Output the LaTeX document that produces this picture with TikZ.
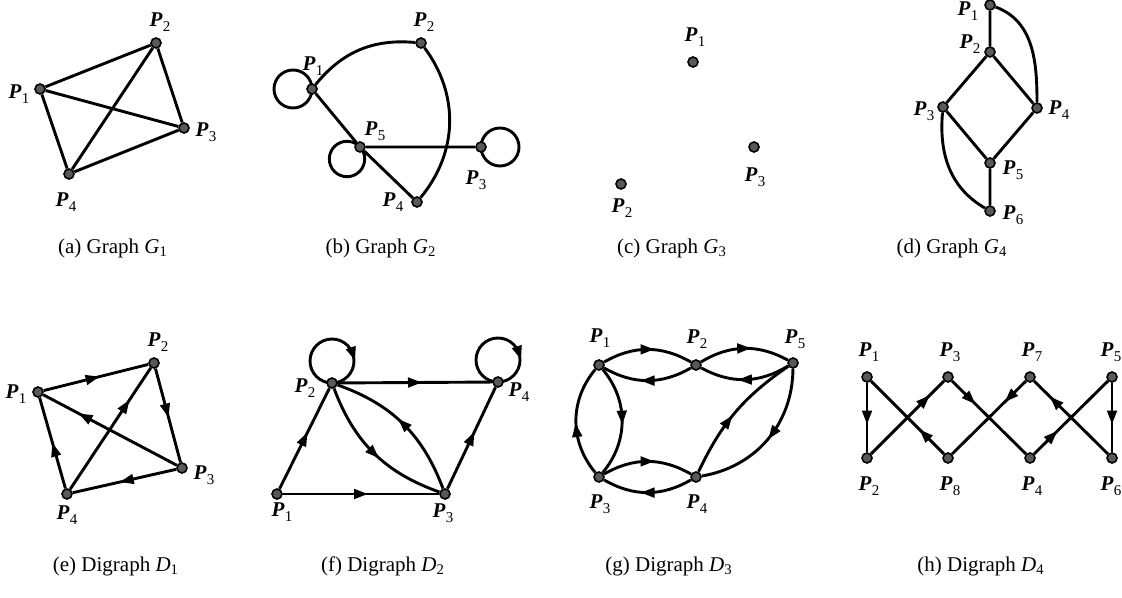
\documentclass[tikz,border=0pt]{standalone}
\usepackage{fontspec}
\setmainfont{Liberation Serif}
\usetikzlibrary{arrows.meta,decorations.markings}
\pgfdeclarelayer{bg}
\pgfsetlayers{bg,main}
\newcommand\Pl[1]{\textbf{\textit{P}}\kern0.2pt\raisebox{-0.55ex}{\fontsize{7.5}{8}\selectfont #1}}
\begin{document}
\begin{tikzpicture}[x=0.5pt,y=0.5pt,
  dot/.style={circle,fill=black!65,draw=black,line width=0.8pt,inner sep=0pt,minimum size=5pt},
  lbl/.style={inner sep=0pt,font=\fontsize{10.5}{12}\selectfont},
  capt/.style={inner sep=0pt,font=\fontsize{10.5}{12}\selectfont},
  ln/.style={line width=1.45pt},
  ma/.style={postaction={decorate},decoration={markings,mark=at position #1 with {\arrow[xshift=3.5pt]{Triangle[length=7pt,width=4.8pt]}}}},
  ma/.default=0.5]
\useasboundingbox (0,0) rectangle (1122,-598);
% ---------- (a)
\node[dot] (a1) at (40,-89) {};
\node[dot] (a2) at (156,-43) {};
\node[dot] (a3) at (184,-128) {};
\node[dot] (a4) at (69,-174) {};
\node[lbl] (la1) at (19,-94) {\Pl1};
\node[lbl] (la2) at (160,-22) {\Pl2};
\node[lbl] (la3) at (206,-132) {\Pl3};
\node[lbl] (la4) at (66,-202) {\Pl4};
\begin{pgfonlayer}{bg}
\draw[ln] (a1)--(a2) (a1)--(a3) (a1)--(a4) (a2)--(a3) (a2)--(a4) (a3)--(a4);
\end{pgfonlayer}
\node[capt] (ca) at (113,-248) {(a) Graph \textit{G}\textsubscript{1}};
% ---------- (b)
\node[dot] (b1) at (312,-89) {};
\node[dot] (b2) at (421,-43) {};
\node[dot] (b3) at (481,-147) {};
\node[dot] (b4) at (417,-202) {};
\node[dot] (b5) at (360,-147) {};
\node[lbl] (lb1) at (313,-66) {\Pl1};
\node[lbl] (lb2) at (424,-22) {\Pl2};
\node[lbl] (lb5) at (375,-131) {\Pl5};
\node[lbl] (lb3) at (476,-180) {\Pl3};
\node[lbl] (lb4) at (393,-202) {\Pl4};
\begin{pgfonlayer}{bg}
\draw[ln] (b1) to[bend left=28] (b2);
\draw[ln] (b2) to[bend left=38] (b4);
\draw[ln] (b1)--(b5) (b5)--(b4) (b5)--(b3);
\draw[ln] (b1.center) ++(-19,0) circle[radius=19];
\draw[ln] (b5.center) ++(-13,-12) circle[radius=17.7];
\draw[ln] (b3.center) ++(19,0) circle[radius=19];
\end{pgfonlayer}
\node[capt] (cb) at (381,-248) {(b) Graph \textit{G}\textsubscript{2}};
% ---------- (c)
\node[dot] (c1) at (693,-62) {};
\node[dot] (c2) at (621,-184) {};
\node[dot] (c3) at (754,-147) {};
\node[lbl] (lc1) at (695,-37) {\Pl1};
\node[lbl] (lc3) at (755,-177) {\Pl3};
\node[lbl] (lc2) at (622,-208) {\Pl2};
\node[capt] (cc) at (672,-248) {(c) Graph \textit{G}\textsubscript{3}};
% ---------- (d)
\node[dot] (d1) at (990,-5) {};
\node[dot] (d2) at (990,-52) {};
\node[dot] (d3) at (943,-107) {};
\node[dot] (d4) at (1037,-108) {};
\node[dot] (d5) at (990,-163) {};
\node[dot] (d6) at (990,-211) {};
\node[lbl] (ld1) at (968,-11) {\Pl1};
\node[lbl] (ld2) at (970,-44) {\Pl2};
\node[lbl] (ld3) at (924,-111) {\Pl3};
\node[lbl] (ld4) at (1059,-110) {\Pl4};
\node[lbl] (ld5) at (1013,-170) {\Pl5};
\node[lbl] (ld6) at (1013,-215) {\Pl6};
\begin{pgfonlayer}{bg}
\draw[ln] (d1)--(d2) (d2)--(d3) (d2)--(d4) (d3)--(d5) (d4)--(d5) (d5)--(d6);
\draw[ln] (d1) to[out=-20,in=90] (d4);
\draw[ln] (d3) to[out=-95,in=150] (d6);
\end{pgfonlayer}
\node[capt] (cd) at (952,-248) {(d) Graph \textit{G}\textsubscript{4}};
% ---------- (e)
\node[dot] (e1) at (38,-392) {};
\node[dot] (e2) at (154,-363) {};
\node[dot] (e3) at (182,-468) {};
\node[dot] (e4) at (67,-494) {};
\node[lbl] (le1) at (16,-394) {\Pl1};
\node[lbl] (le2) at (158,-342) {\Pl2};
\node[lbl] (le3) at (204,-475) {\Pl3};
\node[lbl] (le4) at (67,-515) {\Pl4};
\begin{pgfonlayer}{bg}
\draw[ln,ma=0.47] (e1)--(e2);
\draw[ln,ma=0.45] (e2)--(e3);
\draw[ln,ma=0.69] (e3)--(e1);
\draw[ln,ma=0.69] (e4)--(e2);
\draw[ln,ma=0.48] (e3)--(e4);
\draw[ln,ma=0.43] (e4)--(e1);
\end{pgfonlayer}
\node[capt] (ce) at (116,-566) {(e) Digraph \textit{D}\textsubscript{1}};
% ---------- (f)
\node[dot] (f1) at (277,-494) {};
\node[dot] (f2) at (332,-383) {};
\node[dot] (f3) at (445,-494) {};
\node[dot] (f4) at (498,-382) {};
\node[lbl] (lf2) at (305,-388) {\Pl2};
\node[lbl] (lf4) at (519,-392) {\Pl4};
\node[lbl] (lf1) at (282,-512) {\Pl1};
\node[lbl] (lf3) at (443,-513) {\Pl3};
\begin{pgfonlayer}{bg}
\draw[ln,ma] (f1)--(f2);
\draw[ln,ma] (f1)--(f3);
\draw[ln,ma] (f2)--(f4);
\draw[ln,ma] (f3)--(f4);
\draw[ln,ma] (f2) to[bend right=25] (f3);
\draw[ln,ma] (f3) to[bend right=25] (f2);
\draw[ln,ma=0.7] (f2.center) arc[start angle=270,end angle=-90,radius=22];
\draw[ln,ma=0.7] (f4.center) arc[start angle=270,end angle=-90,radius=22];
\end{pgfonlayer}
\node[capt] (cf) at (383,-566) {(f) Digraph \textit{D}\textsubscript{2}};
% ---------- (g)
\node[dot] (g1) at (599,-365) {};
\node[dot] (g2) at (696,-365) {};
\node[dot] (g5) at (793,-363) {};
\node[dot] (g3) at (599,-477) {};
\node[dot] (g4) at (696,-477) {};
\node[lbl] (lg1) at (600,-338) {\Pl1};
\node[lbl] (lg2) at (697,-339) {\Pl2};
\node[lbl] (lg5) at (795,-339) {\Pl5};
\node[lbl] (lg3) at (600,-504) {\Pl3};
\node[lbl] (lg4) at (697,-504) {\Pl4};
\begin{pgfonlayer}{bg}
\draw[ln,ma] (g1) to[bend left=30] (g2);
\draw[ln,ma] (g2) to[bend left=30] (g1);
\draw[ln,ma] (g2) to[bend left=30] (g5);
\draw[ln,ma] (g5) to[bend left=30] (g2);
\draw[ln,ma=0.47] (g1) to[bend left=40] (g3);
\draw[ln,ma=0.42] (g3) to[bend left=40] (g1);
\draw[ln,ma] (g3) to[bend left=30] (g4);
\draw[ln,ma] (g4) to[bend left=30] (g3);
\draw[ln,ma=0.42] (g4) to[bend left=15] (g5);
\draw[ln,ma=0.45] (g5) to[bend left=40] (g4);
\end{pgfonlayer}
\node[capt] (cg) at (669,-566) {(g) Digraph \textit{D}\textsubscript{3}};
% ---------- (h)
\node[dot] (h1) at (867,-377) {};
\node[dot] (h3) at (948,-377) {};
\node[dot] (h7) at (1030,-377) {};
\node[dot] (h5) at (1112,-377) {};
\node[dot] (h2) at (867,-458) {};
\node[dot] (h8) at (948,-458) {};
\node[dot] (h4) at (1030,-458) {};
\node[dot] (h6) at (1112,-458) {};
\node[lbl] (lh1) at (869,-352) {\Pl1};
\node[lbl] (lh3) at (950,-352) {\Pl3};
\node[lbl] (lh7) at (1032,-352) {\Pl7};
\node[lbl] (lh5) at (1111,-352) {\Pl5};
\node[lbl] (lh2) at (869,-486) {\Pl2};
\node[lbl] (lh8) at (950,-486) {\Pl8};
\node[lbl] (lh4) at (1032,-486) {\Pl4};
\node[lbl] (lh6) at (1111,-486) {\Pl6};
\begin{pgfonlayer}{bg}
\draw[ln,ma=0.5] (h1)--(h2);
\draw[ln,ma=0.74] (h2)--(h3);
\draw[ln,ma=0.25] (h3)--(h4);
\draw[ln,ma=0.25] (h4)--(h5);
\draw[ln,ma=0.5] (h5)--(h6);
\draw[ln,ma=0.72] (h6)--(h7);
\draw[ln,ma=0.22] (h7)--(h8);
\draw[ln,ma=0.27] (h8)--(h1);
\end{pgfonlayer}
\node[capt] (ch) at (981,-566) {(h) Digraph \textit{D}\textsubscript{4}};
\end{tikzpicture}
\end{document}
